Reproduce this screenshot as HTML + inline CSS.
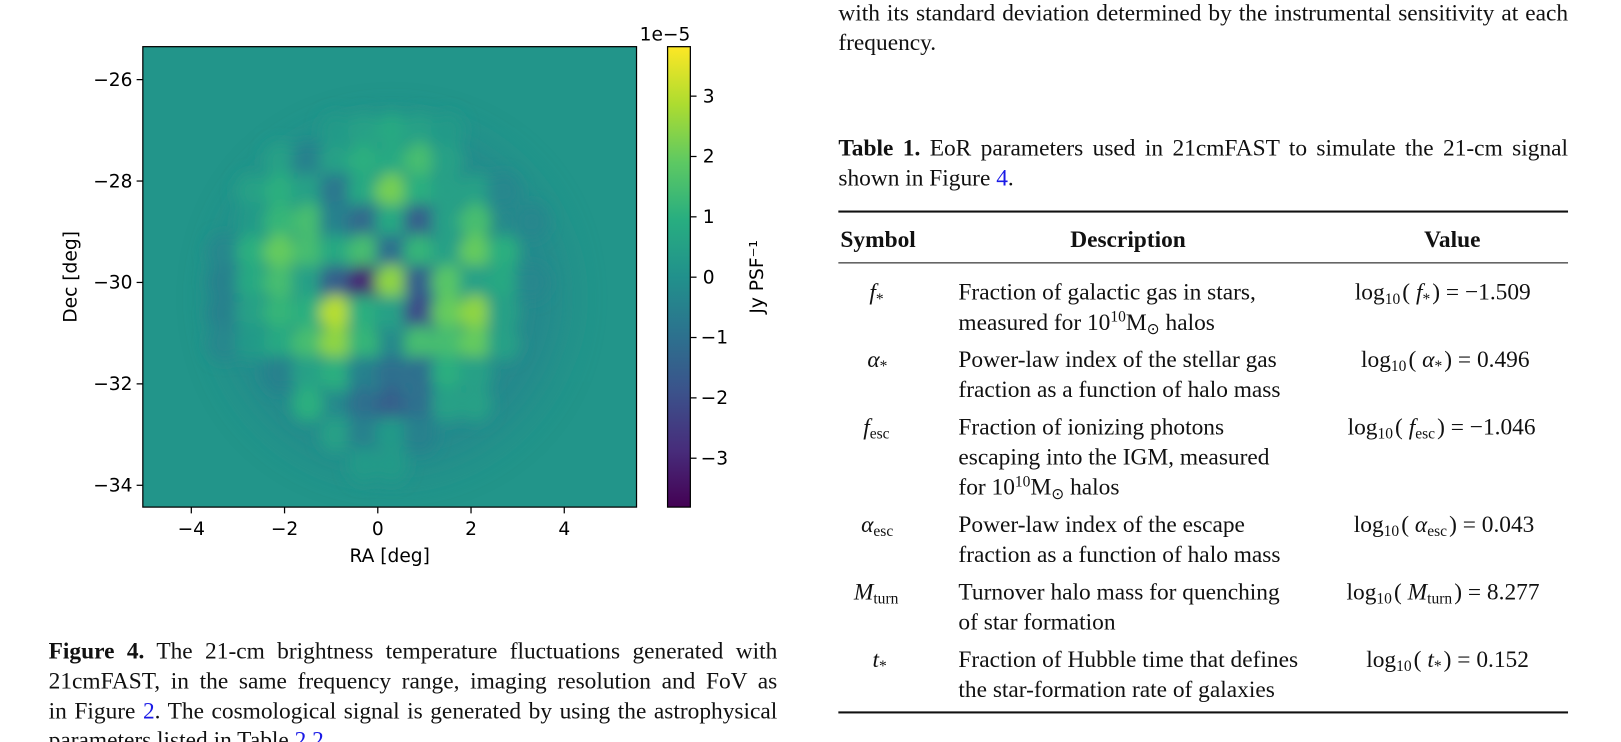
<!DOCTYPE html>
<html><head><meta charset="utf-8">
<style>
html,body{margin:0;padding:0;background:#fff;overflow:hidden}
body{width:1621px;height:742px;position:relative}
#stage{position:absolute;left:0;top:0;width:1560px;height:714px;transform:scale(1.035,1.037);transform-origin:0 0}
.serif{font-family:"Liberation Serif",serif;font-size:22.6px;color:#111;line-height:29px}
.ln{position:absolute;white-space:nowrap}
.jl{position:absolute;white-space:nowrap;text-align:justify;text-align-last:justify}
a{color:#1a1ae6;text-decoration:none}
.rule{position:absolute;left:810px;width:705px;background:#111}
sub{font-size:15px;vertical-align:-4px;line-height:0}
sup{font-size:15px;vertical-align:8px;line-height:0}
i{font-style:italic}
.v sub{margin-right:2px}
</style></head>
<body>
<div id="stage">
<svg id="chart" width="780" height="560" style="position:absolute;left:0;top:0" xmlns="http://www.w3.org/2000/svg">
<defs>
<clipPath id="pc"><rect x="138" y="45" width="477" height="444"/></clipPath>
<filter id="bl" x="-20%" y="-20%" width="140%" height="140%"><feGaussianBlur stdDeviation="7"/></filter>
<filter id="bl2" x="-20%" y="-20%" width="140%" height="140%"><feGaussianBlur stdDeviation="20"/></filter>
<linearGradient id="cbg" x1="0" y1="1" x2="0" y2="0">
<stop offset="0" stop-color="#440154"/><stop offset="0.125" stop-color="#472d7b"/><stop offset="0.25" stop-color="#3b528b"/><stop offset="0.375" stop-color="#2c728e"/><stop offset="0.5" stop-color="#21918c"/><stop offset="0.625" stop-color="#28ae80"/><stop offset="0.75" stop-color="#5ec962"/><stop offset="0.875" stop-color="#addc30"/><stop offset="1" stop-color="#fde725"/>
</linearGradient>
</defs>
<g id="plot"></g>
</svg>

<div class="serif ln" style="left:810px;top:-2px;width:705px"><div class="jl" style="width:705px;position:static">with its standard deviation determined by the instrumental sensitivity at each</div></div>
<div class="serif ln" style="left:810px;top:26px">frequency.</div>

<div class="serif ln" style="left:810px;top:128px;width:705px"><div class="jl" style="position:static;width:705px"><b>Table 1.</b> EoR parameters used in 21cmFAST to simulate the 21-cm signal</div></div>
<div class="serif ln" style="left:810px;top:157px">shown in Figure <a>4</a>.</div>

<div class="rule" style="top:203px;height:2px"></div>
<div class="serif ln" style="left:812px;top:216px;font-weight:bold">Symbol</div>
<div class="serif ln" style="left:1034px;top:216px;font-weight:bold">Description</div>
<div class="serif ln" style="left:1376px;top:216px;font-weight:bold">Value</div>
<div class="rule" style="top:253px;height:1px"></div>

<div>
<div class="serif ln" style="left:840px;top:267px"><i>f</i><sub>*</sub></div>
<div class="serif ln" style="left:926px;top:267px">Fraction of galactic gas in stars,<br>measured for 10<sup>10</sup>M<sub>⊙</sub> halos</div>
<div class="serif ln v" style="left:1309px;top:267px">log<sub>10</sub>( <i>f</i><sub>*</sub>) = −1.509</div>

<div class="serif ln" style="left:838px;top:332px"><i>α</i><sub>*</sub></div>
<div class="serif ln" style="left:926px;top:332px">Power-law index of the stellar gas<br>fraction as a function of halo mass</div>
<div class="serif ln v" style="left:1315px;top:332px">log<sub>10</sub>( <i>α</i><sub>*</sub>) = 0.496</div>

<div class="serif ln" style="left:834px;top:397px"><i>f</i><sub>esc</sub></div>
<div class="serif ln" style="left:926px;top:397px">Fraction of ionizing photons<br>escaping into the IGM, measured<br>for 10<sup>10</sup>M<sub>⊙</sub> halos</div>
<div class="serif ln v" style="left:1302px;top:397px">log<sub>10</sub>( <i>f</i><sub>esc</sub>) = −1.046</div>

<div class="serif ln" style="left:832px;top:491px"><i>α</i><sub>esc</sub></div>
<div class="serif ln" style="left:926px;top:491px">Power-law index of the escape<br>fraction as a function of halo mass</div>
<div class="serif ln v" style="left:1308px;top:491px">log<sub>10</sub>( <i>α</i><sub>esc</sub>) = 0.043</div>

<div class="serif ln" style="left:825px;top:556px"><i>M</i><sub>turn</sub></div>
<div class="serif ln" style="left:926px;top:556px">Turnover halo mass for quenching<br>of star formation</div>
<div class="serif ln v" style="left:1301px;top:556px">log<sub>10</sub>( <i>M</i><sub>turn</sub>) = 8.277</div>

<div class="serif ln" style="left:843px;top:621px"><i>t</i><sub>*</sub></div>
<div class="serif ln" style="left:926px;top:621px">Fraction of Hubble time that defines<br>the star-formation rate of galaxies</div>
<div class="serif ln v" style="left:1320px;top:621px">log<sub>10</sub>( <i>t</i><sub>*</sub>) = 0.152</div>
</div>
<div class="rule" style="top:686px;height:2px"></div>

<div>
<div class="serif jl" style="left:47px;top:613px;width:704px"><b>Figure 4.</b> The 21-cm brightness temperature fluctuations generated with</div>
<div class="serif jl" style="left:47px;top:642px;width:704px">21cmFAST, in the same frequency range, imaging resolution and FoV as</div>
<div class="serif jl" style="left:47px;top:671px;width:704px">in Figure <a>2</a>. The cosmological signal is generated by using the astrophysical</div>
<div class="serif ln" style="left:47px;top:699px">parameters listed in Table <a>2.2</a>.</div>
</div>
</div>

<script>
// ---- data ----
const raCenters = [-3.3,-2.7,-2.1,-1.5,-0.9,-0.3,0.3,0.9,1.5,2.1,2.7,3.3];
const decCenters = [-27.0,-27.6,-28.2,-28.8,-29.4,-30.0,-30.6,-31.2,-31.8,-32.4,-33.0,-33.6];
const fluxRows = [
 [0,0,0,0,0.3,0.5,0.8,0.5,0.3,0,0,0],
 [0,0,0.5,-0.5,0.5,1,0.8,1.5,0.5,0,0,0],
 [0,0.5,1,0.5,-0.8,0.8,2.2,1,0.5,0.5,-0.3,0],
 [0,0.3,1.2,1.5,-0.5,-1.2,0.8,-1.5,0.5,1.5,0,-0.3],
 [-0.3,1,2,1.5,0.8,1.5,-1,1.2,0.5,2,1,0],
 [-0.5,0.8,1.5,0.5,-1.5,-3,2.5,-1.5,1.8,0.5,0.8,-0.3],
 [-0.5,0.5,1.2,1,3,1,0.5,-2,2,2.5,0.5,0],
 [-0.3,0.3,0.8,1.5,2.5,1.2,0,1.5,1.5,2,0.5,0],
 [0,0,-0.5,0.5,1,-0.5,-1,-1,1,0.5,0,0],
 [0,0,0,1,0,-1,-1.5,-1,0.5,0.5,0,0],
 [0,0,0,0,0.5,-0.5,0.3,-0.5,0,0,0,0],
 [0,0,0,0,0,0.3,0.3,0,0,0,0,0]
];
const raTicks = [-4,-2,0,2,4];
const decTicks = [-26,-28,-30,-32,-34];
const cbTicks = [3,2,1,0,-1,-2,-3];

// ---- axes ----
const X0=138,X1=615,Y0=45,Y1=489;
const raMin=-5.04, raMax=5.55, decTop=-25.35, decBot=-34.43;
const cMin=-3.81, cMax=3.82;
const CBX=645, CBW=22;
const xS = v => X0 + (v-raMin)/(raMax-raMin)*(X1-X0);
const yS = v => Y0 + (v-decTop)/(decBot-decTop)*(Y1-Y0);
const cS = v => Y1 - (v-cMin)/(cMax-cMin)*(Y1-Y0);

const vir=[[68,1,84],[71,45,123],[59,82,139],[44,114,142],[33,145,140],[40,174,128],[94,201,98],[173,220,48],[253,231,37]];
function viridis(v){
  let t=(v-cMin)/(cMax-cMin); t=Math.max(0,Math.min(1,t))*8;
  const i=Math.min(7,Math.floor(t)), f=t-i, a=vir[i], b=vir[i+1];
  return `rgb(${a.map((c,k)=>Math.round(c+(b[k]-c)*f)).join(',')})`;
}
const NS='http://www.w3.org/2000/svg';
function mk(tag,attrs,parent){const e=document.createElementNS(NS,tag);for(const k in attrs)e.setAttribute(k,attrs[k]);parent.appendChild(e);return e;}
const g=document.getElementById('plot');

const img=mk('g',{'clip-path':'url(#pc)'},g);


const bg=mk('rect',{x:X0,y:Y0,width:X1-X0,height:Y1-Y0,fill:viridis(0.15)},img);


const ring=mk('ellipse',{cx:xS(0.3),cy:yS(-30.3),rx:165,ry:165,fill:viridis(-0.35),filter:'url(#bl2)',opacity:0.8},img);


const cells=mk('g',{filter:'url(#bl)'},img);
const dx=(xS(0.6)-xS(0)), dy=(yS(-0.6)-yS(0));
fluxRows.forEach((row,ri)=>row.forEach((v,ci)=>{
  if(v===0) return;
  const r=mk('ellipse',{cx:xS(raCenters[ci]),cy:yS(decCenters[ri]),rx:dx*0.6,ry:dy*0.6,fill:viridis(v)},cells);
  
  
}));
const frame=mk('rect',{x:X0,y:Y0,width:X1-X0,height:Y1-Y0,fill:'none',stroke:'#000','stroke-width':1.2},g);



const font='"DejaVu Sans","Liberation Sans",sans-serif';
raTicks.forEach(t=>{
  const x=xS(t);
  const l=mk('line',{x1:x,x2:x,y1:Y1,y2:Y1+6,stroke:'#000','stroke-width':1.2},g);
  
  
  const tx=mk('text',{x:x,y:Y1+27,'text-anchor':'middle','font-family':font,'font-size':18},g);
  tx.textContent=(t<0?'−':'')+Math.abs(t);
  
  
});
decTicks.forEach(t=>{
  const y=yS(t);
  const l=mk('line',{x1:X0-6,x2:X0,y1:y,y2:y,stroke:'#000','stroke-width':1.2},g);
  
  
  const tx=mk('text',{x:X0-10,y:y+6,'text-anchor':'end','font-family':font,'font-size':18},g);
  tx.textContent='−'+Math.abs(t);
  
  
});
const xl=mk('text',{x:(X0+X1)/2,y:542,'text-anchor':'middle','font-family':font,'font-size':18},g);
xl.textContent='RA [deg]';


const yl=mk('text',{x:0,y:0,'text-anchor':'middle','font-family':font,'font-size':18,transform:`translate(74,${(Y0+Y1)/2}) rotate(-90)`},g);
yl.textContent='Dec [deg]';



const cb=mk('rect',{x:CBX,y:Y0,width:CBW,height:Y1-Y0,fill:'url(#cbg)',stroke:'#000','stroke-width':1.2},g);


cbTicks.forEach(t=>{
  const y=cS(t);
  const l=mk('line',{x1:CBX+CBW,x2:CBX+CBW+6,y1:y,y2:y,stroke:'#000','stroke-width':1.2},g);
  
  
  const tx=mk('text',{x:CBX+CBW+(t<0?10:12),y:y+6,'font-family':font,'font-size':18},g);
  tx.textContent=(t<0?'−':'')+Math.abs(t);
  
  
});
const ex=mk('text',{x:CBX+CBW,y:39,'text-anchor':'end','font-family':font,'font-size':18},g);
ex.textContent='1e−5';


const cl=mk('text',{x:0,y:0,'text-anchor':'middle','font-family':font,'font-size':18,transform:`translate(737,${(Y0+Y1)/2}) rotate(-90)`},g);
cl.textContent='Jy PSF⁻¹';


</script>
</body></html>
